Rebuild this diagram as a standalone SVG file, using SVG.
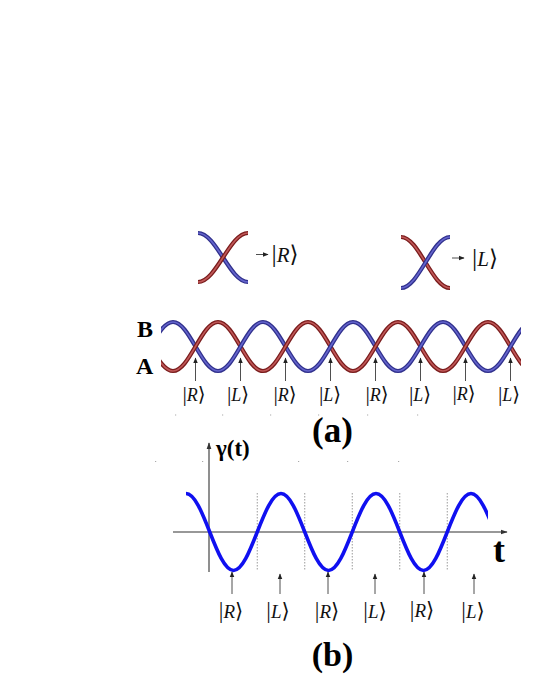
<svg xmlns="http://www.w3.org/2000/svg" width="540" height="699" viewBox="0 0 540 699">
<style>
.ket{font-family:"Liberation Serif","DejaVu Serif",serif;fill:#111;text-anchor:middle}
.ket .v{font-family:"Liberation Serif",serif;font-style:normal}
.ket .i{font-style:italic}
.ket .br{font-family:"DejaVu Serif",serif;font-weight:normal}
.lbl{font-family:"Liberation Serif",serif;font-weight:bold;fill:#000}
.bo{fill:none;stroke:#30308c;stroke-width:4.2;stroke-linecap:butt}
.bi{fill:none;stroke:#6464cc;stroke-width:1.6;stroke-linecap:butt}
.ro{fill:none;stroke:#7a1c1c;stroke-width:4.2;stroke-linecap:butt}
.ri{fill:none;stroke:#c05858;stroke-width:1.6;stroke-linecap:butt}
.arr{stroke:#222;stroke-width:0.8;fill:none}
.ax{stroke:#333;stroke-width:1.1;fill:none}
.dash{stroke:#9a9a9a;stroke-width:1;stroke-dasharray:1.5 1.5;fill:none}
.dot{fill:#aaa}
</style>
<defs>
<marker id="ah" viewBox="0 0 10 10" refX="9" refY="5" markerWidth="6" markerHeight="6" orient="auto" markerUnits="userSpaceOnUse">
<path d="M0,1 L10,5 L0,9 Z" fill="#222"/>
</marker>
<marker id="ah2" viewBox="0 0 10 10" refX="9" refY="5" markerWidth="7" markerHeight="7" orient="auto" markerUnits="userSpaceOnUse">
<path d="M0,1.5 L10,5 L0,8.5 Z" fill="#333"/>
</marker>
<clipPath id="clipA"><rect x="161" y="300" width="360" height="100"/></clipPath>
<clipPath id="clipB"><rect x="180" y="480" width="308" height="100"/></clipPath>
<path id="bFall" d="M173,322 C189.4,322 201.6,371 218,371 M263,322 C279.4,322 291.6,371 308,371 M353,322 C369.4,322 381.6,371 398,371 M443,322 C459.4,322 471.6,371 488,371"/>
<path id="bRise" d="M128,371 C144.4,371 156.6,322 173,322 M218,371 C234.4,371 246.6,322 263,322 M308,371 C324.4,371 336.6,322 353,322 M398,371 C414.4,371 426.6,322 443,322 M488,371 C504.4,371 516.6,322 533,322"/>
<path id="rFall" d="M128,322 C144.4,322 156.6,371 173,371 M218,322 C234.4,322 246.6,371 263,371 M308,322 C324.4,322 336.6,371 353,371 M398,322 C414.4,322 426.6,371 443,371 M488,322 C504.4,322 516.6,371 533,371"/>
<path id="rRise" d="M173,371 C189.4,371 201.6,322 218,322 M263,371 C279.4,371 291.6,322 308,322 M353,371 C369.4,371 381.6,322 398,322 M443,371 C459.4,371 471.6,322 488,322"/>
</defs>
<rect width="540" height="699" fill="#fff"/>

<!-- top legend: R crossing -->
<g id="legendR">
<path class="bo" d="M198,233 C216.2,233 229.8,282 248,282"/>
<path class="bi" d="M198,233 C216.2,233 229.8,282 248,282"/>
<path class="ro" d="M198,282 C216.2,282 229.8,233 248,233"/>
<path class="ri" d="M198,282 C216.2,282 229.8,233 248,233"/>
<line class="arr" x1="256" y1="254.5" x2="268" y2="254.5" marker-end="url(#ah)"/>
<text class="ket" x="285" y="262" font-size="21"><tspan class="v" font-size="26">|</tspan><tspan class="i">R</tspan><tspan class="br" font-size="23">⟩</tspan></text>
</g>

<!-- top legend: L crossing -->
<g id="legendL">
<path class="ro" d="M401,237 C418.8,237 432.2,288 450,288"/>
<path class="ri" d="M401,237 C418.8,237 432.2,288 450,288"/>
<path class="bo" d="M401,288 C418.8,288 432.2,237 450,237"/>
<path class="bi" d="M401,288 C418.8,288 432.2,237 450,237"/>
<line class="arr" x1="452" y1="258" x2="464" y2="258" marker-end="url(#ah)"/>
<text class="ket" x="485" y="266" font-size="21"><tspan class="v" font-size="26">|</tspan><tspan class="i">L</tspan><tspan class="br" font-size="23">⟩</tspan></text>
</g>

<!-- (a) braid -->
<g id="braid" clip-path="url(#clipA)">
<use href="#bFall" class="bo"/><use href="#bFall" class="bi"/>
<use href="#rFall" class="ro"/><use href="#rFall" class="ri"/>
<use href="#bRise" class="bo"/><use href="#bRise" class="bi"/>
<use href="#rRise" class="ro"/><use href="#rRise" class="ri"/>
</g>
<g id="labelsA">
<text class="lbl" x="137" y="337" font-size="24">B</text>
<text class="lbl" x="136" y="374" font-size="24">A</text>
</g>

<g id="connectors">
<g id="arrowsA">
<line class="arr" x1="195.5" y1="381" x2="195.5" y2="358" marker-end="url(#ah)"/>
<line class="arr" x1="240.5" y1="381" x2="240.5" y2="358" marker-end="url(#ah)"/>
<line class="arr" x1="285.5" y1="381" x2="285.5" y2="358" marker-end="url(#ah)"/>
<line class="arr" x1="330.5" y1="381" x2="330.5" y2="358" marker-end="url(#ah)"/>
<line class="arr" x1="375.5" y1="381" x2="375.5" y2="358" marker-end="url(#ah)"/>
<line class="arr" x1="420.5" y1="381" x2="420.5" y2="358" marker-end="url(#ah)"/>
<line class="arr" x1="465.5" y1="381" x2="465.5" y2="358" marker-end="url(#ah)"/>
<line class="arr" x1="510.5" y1="381" x2="510.5" y2="358" marker-end="url(#ah)"/>
</g>
<g id="arrowsB">
<line class="arr" x1="232" y1="594" x2="232" y2="572" marker-end="url(#ah)"/>
<line class="arr" x1="280" y1="594" x2="280" y2="574" marker-end="url(#ah)"/>
<line class="arr" x1="328" y1="594" x2="328" y2="572" marker-end="url(#ah)"/>
<line class="arr" x1="375" y1="594" x2="375" y2="574" marker-end="url(#ah)"/>
<line class="arr" x1="424" y1="594" x2="424" y2="572" marker-end="url(#ah)"/>
<line class="arr" x1="474" y1="594" x2="474" y2="574" marker-end="url(#ah)"/>
</g>
</g>

<g id="ketsA">
<text class="ket" x="194" y="401" font-size="18"><tspan class="v" font-size="22">|</tspan><tspan class="i">R</tspan><tspan class="br" font-size="20">⟩</tspan></text>
<text class="ket" x="238" y="401" font-size="18"><tspan class="v" font-size="22">|</tspan><tspan class="i">L</tspan><tspan class="br" font-size="20">⟩</tspan></text>
<text class="ket" x="285" y="401" font-size="18"><tspan class="v" font-size="22">|</tspan><tspan class="i">R</tspan><tspan class="br" font-size="20">⟩</tspan></text>
<text class="ket" x="330" y="401" font-size="18"><tspan class="v" font-size="22">|</tspan><tspan class="i">L</tspan><tspan class="br" font-size="20">⟩</tspan></text>
<text class="ket" x="377" y="401" font-size="18"><tspan class="v" font-size="22">|</tspan><tspan class="i">R</tspan><tspan class="br" font-size="20">⟩</tspan></text>
<text class="ket" x="420" y="401" font-size="18"><tspan class="v" font-size="22">|</tspan><tspan class="i">L</tspan><tspan class="br" font-size="20">⟩</tspan></text>
<text class="ket" x="464" y="400" font-size="18"><tspan class="v" font-size="22">|</tspan><tspan class="i">R</tspan><tspan class="br" font-size="20">⟩</tspan></text>
<text class="ket" x="509" y="401" font-size="18"><tspan class="v" font-size="22">|</tspan><tspan class="i">L</tspan><tspan class="br" font-size="20">⟩</tspan></text>
</g>

<g id="specks">
<rect class="dot" x="175" y="414.5" width="1.2" height="1"/>
<rect class="dot" x="222" y="414.5" width="1.2" height="1"/>
<rect class="dot" x="270" y="414.5" width="1.2" height="1"/>
<rect class="dot" x="318" y="414.5" width="1.2" height="1"/>
<rect class="dot" x="367" y="414.5" width="1.2" height="1"/>
<rect class="dot" x="417" y="414.5" width="1.2" height="1"/>
<rect class="dot" x="155" y="461" width="1.2" height="1"/>
<rect class="dot" x="202" y="461" width="1.2" height="1"/>
<rect class="dot" x="298" y="461" width="1.2" height="1"/>
<rect class="dot" x="347" y="461" width="1.2" height="1"/>
<rect class="dot" x="398" y="461" width="1.2" height="1"/>
</g>

<text id="capA" class="lbl" x="332.5" y="442" font-size="35" text-anchor="middle">(a)</text>

<!-- (b) plot -->
<g id="plotB">
<line class="dash" x1="257.25" y1="493" x2="257.25" y2="571"/>
<line class="dash" x1="304.75" y1="493" x2="304.75" y2="571"/>
<line class="dash" x1="352.25" y1="493" x2="352.25" y2="571"/>
<line class="dash" x1="399.75" y1="493" x2="399.75" y2="571"/>
<line class="dash" x1="447.25" y1="493" x2="447.25" y2="571"/>
<line class="ax" x1="209" y1="572" x2="209" y2="443" marker-end="url(#ah2)"/>
<line class="ax" x1="173" y1="532" x2="507" y2="532" marker-end="url(#ah2)"/>
<path clip-path="url(#clipB)" fill="none" stroke="#1010f0" stroke-width="3.6" d="M186,493.5 C203.3,493.5 216.2,570.5 233.5,570.5 S263.7,493.5 281,493.5 S311.2,570.5 328.5,570.5 S358.7,493.5 376,493.5 S406.2,570.5 423.5,570.5 S453.7,493.5 471,493.5 S501.2,570.5 518.5,570.5"/>
<text class="lbl" x="216" y="456" font-size="23">γ(t)</text>
<text class="lbl" x="493" y="562" font-size="36">t</text>
</g>

<g id="ketsB">
<text class="ket" x="231" y="618" font-size="19"><tspan class="v" font-size="23">|</tspan><tspan class="i">R</tspan><tspan class="br" font-size="21">⟩</tspan></text>
<text class="ket" x="278" y="618" font-size="19"><tspan class="v" font-size="23">|</tspan><tspan class="i">L</tspan><tspan class="br" font-size="21">⟩</tspan></text>
<text class="ket" x="327" y="618" font-size="19"><tspan class="v" font-size="23">|</tspan><tspan class="i">R</tspan><tspan class="br" font-size="21">⟩</tspan></text>
<text class="ket" x="375" y="618" font-size="19"><tspan class="v" font-size="23">|</tspan><tspan class="i">L</tspan><tspan class="br" font-size="21">⟩</tspan></text>
<text class="ket" x="422" y="617" font-size="19"><tspan class="v" font-size="23">|</tspan><tspan class="i">R</tspan><tspan class="br" font-size="21">⟩</tspan></text>
<text class="ket" x="473" y="618" font-size="19"><tspan class="v" font-size="23">|</tspan><tspan class="i">L</tspan><tspan class="br" font-size="21">⟩</tspan></text>
</g>

<text id="capB" class="lbl" x="332.5" y="666" font-size="34" text-anchor="middle">(b)</text>
</svg>
